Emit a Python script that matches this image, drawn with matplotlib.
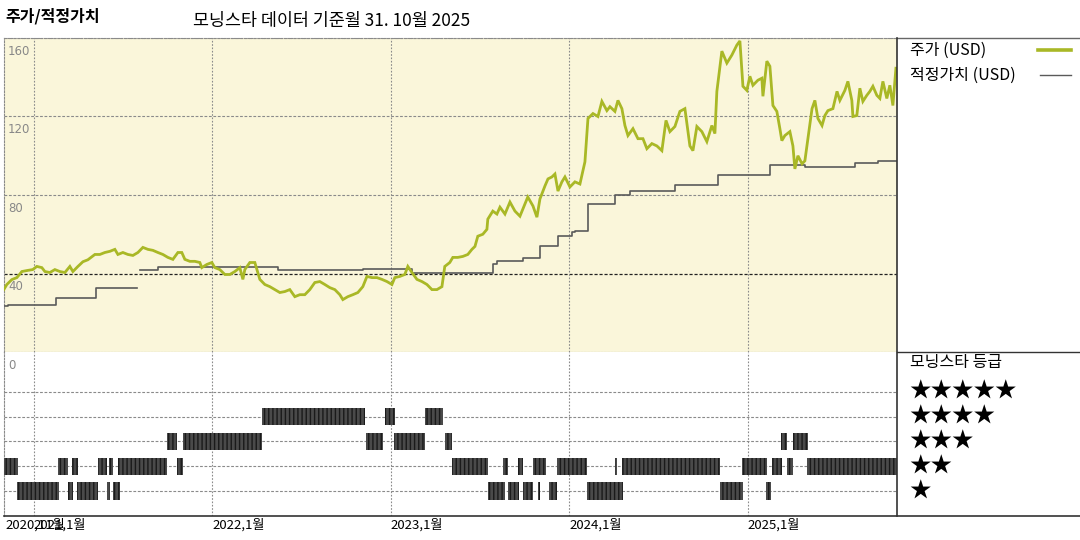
import numpy as np
import matplotlib
matplotlib.use("Agg")
import matplotlib.pyplot as plt
from matplotlib.lines import Line2D

plt.rcParams['font.family'] = ['Noto Sans CJK KR', 'DejaVu Sans']

# ── Data (x = decimal year) ──────────────────────────────────────────────────
price_t = [
    2020.832, 2020.849, 2020.877, 2020.905, 2020.933, 2020.961, 2020.994, 2021.017,
    2021.045, 2021.062, 2021.090, 2021.118, 2021.146, 2021.174, 2021.202, 2021.219,
    2021.247, 2021.275, 2021.303, 2021.342, 2021.370, 2021.398, 2021.426, 2021.454,
    2021.471, 2021.499, 2021.527, 2021.555, 2021.583, 2021.611, 2021.639, 2021.667,
    2021.695, 2021.723, 2021.751, 2021.779, 2021.807, 2021.829, 2021.846, 2021.874,
    2021.902, 2021.930, 2021.941, 2021.969, 2021.997, 2022.014, 2022.042, 2022.070,
    2022.098, 2022.126, 2022.154, 2022.171, 2022.182, 2022.210, 2022.238, 2022.266,
    2022.294, 2022.322, 2022.350, 2022.378, 2022.406, 2022.434, 2022.462, 2022.490,
    2022.518, 2022.546, 2022.574, 2022.602, 2022.630, 2022.658, 2022.686, 2022.714,
    2022.731, 2022.759, 2022.787, 2022.815, 2022.843, 2022.866, 2022.894, 2022.922,
    2022.950, 2022.978, 2023.006, 2023.022, 2023.050, 2023.078, 2023.095, 2023.118,
    2023.146, 2023.174, 2023.202, 2023.230, 2023.258, 2023.286, 2023.302, 2023.330,
    2023.347, 2023.375, 2023.403, 2023.431, 2023.454, 2023.471, 2023.487, 2023.515,
    2023.538, 2023.543, 2023.571, 2023.594, 2023.611, 2023.639, 2023.667, 2023.695,
    2023.723, 2023.751, 2023.767, 2023.796, 2023.818, 2023.835, 2023.863, 2023.880,
    2023.902, 2023.919, 2023.936, 2023.958, 2023.975, 2024.003, 2024.031, 2024.059,
    2024.087, 2024.104, 2024.132, 2024.160, 2024.182, 2024.210, 2024.227, 2024.255,
    2024.272, 2024.294, 2024.311, 2024.328, 2024.356, 2024.384, 2024.412, 2024.434,
    2024.462, 2024.490, 2024.518, 2024.541, 2024.563, 2024.591, 2024.619, 2024.647,
    2024.675, 2024.692, 2024.714, 2024.742, 2024.770, 2024.798, 2024.815, 2024.826,
    2024.854, 2024.882, 2024.910, 2024.938, 2024.955, 2024.972, 2024.994, 2025.011,
    2025.028, 2025.056, 2025.078, 2025.084, 2025.106, 2025.123, 2025.140, 2025.162,
    2025.179, 2025.190, 2025.207, 2025.235, 2025.252, 2025.263, 2025.280, 2025.303,
    2025.319, 2025.336, 2025.359, 2025.375, 2025.392, 2025.415, 2025.431, 2025.448,
    2025.476, 2025.499, 2025.515, 2025.543, 2025.560, 2025.582, 2025.588, 2025.610,
    2025.627, 2025.644, 2025.666, 2025.683, 2025.700, 2025.722, 2025.739, 2025.756,
    2025.778, 2025.795, 2025.812, 2025.829,
]
price_v = [
    31.8, 34.4, 36.9, 37.9, 41.0, 41.5, 42.0, 43.6,
    43.0, 41.0, 40.5, 42.0, 41.0, 40.5, 43.6, 41.0,
    43.6, 46.0, 47.0, 49.7, 49.7, 50.7, 51.3, 52.3,
    49.7, 50.7, 49.7, 49.2, 50.7, 53.3, 52.3, 51.8,
    50.7, 49.7, 48.2, 47.2, 50.7, 50.7, 47.2, 46.2,
    46.2, 45.6, 43.0, 44.6, 45.6, 43.0, 42.0, 39.5,
    39.5, 41.0, 43.0, 37.0, 42.0, 45.6, 45.6, 37.0,
    34.4, 33.3, 31.8, 30.3, 30.8, 31.8, 28.2, 29.2,
    29.2, 31.8, 35.4, 35.9, 34.4, 32.8, 31.8, 29.2,
    26.7, 28.2, 29.2, 30.3, 33.3, 38.5, 37.9, 37.9,
    37.0, 35.9, 34.4, 37.9, 38.5, 39.5, 43.6, 40.5,
    37.0, 35.9, 34.4, 31.8, 31.8, 33.3, 43.6, 45.6,
    48.2, 48.2, 48.7, 49.7, 52.3, 53.8, 59.0, 60.0,
    62.5, 67.7, 71.8, 70.3, 73.8, 70.3, 76.4, 71.8,
    69.2, 75.4, 79.0, 74.4, 68.7, 78.0, 84.6, 88.2,
    89.2, 90.7, 82.0, 86.7, 89.2, 84.1, 86.7, 85.6,
    96.9, 119.0, 121.5, 120.0, 127.7, 123.0, 125.0, 122.6,
    128.2, 124.0, 115.4, 110.3, 113.8, 108.7, 108.7, 103.6,
    106.2, 105.0, 102.6, 118.0, 112.3, 114.9, 122.6, 124.0,
    105.0, 102.6, 114.9, 112.3, 107.2, 115.4, 111.3, 132.8,
    153.3, 147.2, 151.3, 156.4, 158.5, 135.4, 133.3, 140.5,
    135.9, 138.5, 139.5, 130.3, 148.2, 145.6, 125.6, 122.6,
    113.8, 107.7, 110.3, 112.3, 105.0, 93.3, 100.0, 95.9,
    97.4, 108.7, 124.0, 128.2, 119.0, 115.4, 120.5, 123.0,
    124.0, 132.8, 128.2, 133.3, 137.9, 128.2, 120.0, 120.5,
    134.4, 127.7, 130.8, 132.8, 135.4, 130.8, 129.2, 137.9,
    129.2, 135.9, 125.6, 144.6,
]

# fair value, drawn as a post-step line (nan = break in the series)
fair_t = [2020.832, 2020.854, 2021.123, 2021.348, 2021.577, 2021.594, 2021.695,
          2022.367, 2022.843, 2023.118, 2023.571, 2023.594, 2023.740, 2023.835,
          2023.936, 2024.014, 2024.031, 2024.104, 2024.255, 2024.339, 2024.591,
          2024.832, 2025.123, 2025.319, 2025.600, 2025.728, 2025.829]
fair_v = [23.5, 24.1, 27.7, 32.8, np.nan, 42.0, 43.2,
          42.0, 42.4, 40.5, 44.6, 46.3, 48.0, 54.0,
          59.1, 60.9, 61.7, 75.4, 80.2, 81.9, 85.3,
          90.4, 95.5, 94.5, 96.2, 97.3, 97.3]

# Morningstar star rating periods (start, end) per level
rating_4 = [(2022.277, 2022.854), (2022.966, 2023.022), (2023.190, 2023.291)]
rating_3 = [(2021.745, 2021.801), (2021.835, 2022.277), (2022.860, 2022.955),
            (2023.017, 2023.190), (2023.302, 2023.342), (2025.185, 2025.218),
            (2025.252, 2025.336)]
rating_2 = [(2020.826, 2020.910), (2021.134, 2021.190), (2021.213, 2021.246),
            (2021.358, 2021.409), (2021.420, 2021.443), (2021.471, 2021.745),
            (2021.801, 2021.835), (2023.342, 2023.543), (2023.627, 2023.655),
            (2023.711, 2023.739), (2023.795, 2023.868), (2023.930, 2024.098),
            (2024.255, 2024.266), (2024.294, 2024.843), (2024.966, 2025.106),
            (2025.134, 2025.190), (2025.218, 2025.252), (2025.330, 2025.835)]
rating_1 = [(2020.905, 2021.140), (2021.190, 2021.218), (2021.241, 2021.358),
            (2021.409, 2021.426), (2021.443, 2021.482), (2023.543, 2023.639),
            (2023.655, 2023.717), (2023.739, 2023.795), (2023.823, 2023.835),
            (2023.885, 2023.930), (2024.098, 2024.300), (2024.843, 2024.972),
            (2025.101, 2025.129)]
ratings = {4: rating_4, 3: rating_3, 2: rating_2, 1: rating_1}
star_labels = ['★★★★★', '★★★★', '★★★', '★★', '★']

year_ticks = [2020.840, 2021.0, 2022.0, 2023.0, 2024.0, 2025.0]
year_labels = ['2020,11월', '2021,1월', '2022,1월', '2023,1월', '2024,1월', '2025,1월']
price_ticks = [0, 40, 80, 120, 160]

XLIM = (2020.833, 2025.835)
GREEN = '#A9B826'
FAIR = '#5a5a5a'
GRID = '#8a8a8a'

fig = plt.figure(figsize=(10.8, 5.4), dpi=100)
W, H = 1080.0, 540.0


def fbox(x0, y0, x1, y1):
    # pixel box (top-left origin) -> figure fraction rect
    return [x0 / W, 1 - y1 / H, (x1 - x0) / W, (y1 - y0) / H]


ax = fig.add_axes(fbox(4, 38, 897, 352))
axr = fig.add_axes(fbox(4, 352, 897, 516))

# ── Price / fair value panel ─────────────────────────────────────────────────
ax.set_facecolor('#FAF6DA')
ax.set_xlim(*XLIM)
ax.set_ylim(0, 160)
for v in price_ticks[2:]:
    ax.axhline(v, color=GRID, lw=0.8, ls=(0, (2.5, 1.5)), zorder=1)
ax.axhline(40, color='#222222', lw=0.9, ls=(0, (2.5, 1.5)), zorder=1)
for yr in year_ticks[1:]:
    ax.axvline(yr, color=GRID, lw=0.8, ls=(0, (1.5, 1.5)), zorder=1)
    axr.axvline(yr, color=GRID, lw=0.8, ls=(0, (1.5, 1.5)), zorder=1)

ax.step(fair_t, fair_v, where='post', color=FAIR, lw=1.2, zorder=3)
ax.plot(price_t, price_v, color=GREEN, lw=2.0, zorder=4, solid_joinstyle='miter')

for v in price_ticks[1:]:
    ax.annotate(str(v), xy=(0, v), xycoords=('axes fraction', 'data'),
                xytext=(3, -5), textcoords='offset points', va='top', ha='left',
                fontsize=8.5, color='#888888', family='DejaVu Sans', zorder=6)
# the zero label sits just under the price panel, i.e. on top of the rating panel
axr.annotate(str(price_ticks[0]), xy=(0, 1), xycoords='axes fraction',
             xytext=(3, -5), textcoords='offset points', va='top', ha='left',
             fontsize=8.5, color='#888888', family='DejaVu Sans', zorder=6)

ax.set_xticks([])
ax.set_yticks([])
ax.tick_params(labelbottom=False, labelleft=False, length=0)
for side in ('left', 'top', 'bottom'):
    ax.spines[side].set_linestyle((0, (1.5, 1.5)))
    ax.spines[side].set_color(GRID)
    ax.spines[side].set_linewidth(0.8)
ax.spines['right'].set_visible(False)

# ── Star rating panel ────────────────────────────────────────────────────────
axr.set_xlim(*XLIM)
axr.set_ylim(0, 6.6)
for lvl in range(1, 6):
    axr.axhline(lvl, color=GRID, lw=0.8, ls=(0, (2.5, 1.5)), zorder=1)
for lvl, spans in ratings.items():
    axr.broken_barh([(a, b - a) for a, b in spans], (lvl - 0.35, 0.7),
                    facecolor='#4a4a4a', edgecolor='#1a1a1a', hatch='||||',
                    linewidth=0, zorder=3)

axr.set_yticks([])
axr.set_xticks(year_ticks)
axr.set_xticklabels(year_labels, fontsize=9.5)
axr.tick_params(axis='x', length=0, pad=2)
for lab in axr.get_xticklabels():
    lab.set_horizontalalignment('left')
for side in ('top', 'right', 'bottom'):
    axr.spines[side].set_visible(False)
axr.spines['left'].set_linestyle((0, (1.5, 1.5)))
axr.spines['left'].set_color(GRID)
axr.spines['left'].set_linewidth(0.8)

# ── Frame lines and right-hand panel ─────────────────────────────────────────
def fline(x0, y0, x1, y1, **kw):
    fig.add_artist(Line2D([x0 / W, x1 / W], [1 - y0 / H, 1 - y1 / H], **kw))


fline(897, 38, 1080, 38, color='#666666', lw=1.0)
fline(897, 38, 897, 516, color='#333333', lw=1.2)
fline(897, 352, 1080, 352, color='#333333', lw=1.0)
fline(4, 516, 1080, 516, color='#333333', lw=1.2)

fig.text(5 / W, 1 - 16 / H, '주가/적정가치', fontsize=11.5, fontweight='bold',
         va='center', ha='left')
fig.text(193 / W, 1 - 21 / H, '모닝스타 데이터 기준월 31. 10월 2025', fontsize=12.5,
         va='center', ha='left')

fig.text(910 / W, 1 - 50 / H, '주가 (USD)', fontsize=11.5, va='center', ha='left')
fig.text(910 / W, 1 - 75 / H, '적정가치 (USD)', fontsize=11.5, va='center', ha='left')
fline(1038, 50, 1071, 50, color=GREEN, lw=2.6)
fline(1040, 75, 1071, 75, color=FAIR, lw=1.0)

fig.text(910 / W, 1 - 363 / H, '모닝스타 등급', fontsize=11.5, va='center', ha='left')
for i, stars in enumerate(star_labels):
    fig.text(909 / W, 1 - (392 + 24.8 * i) / H, stars, fontsize=15.5,
             va='center', ha='left')

fig.savefig('out.png', dpi=100)
